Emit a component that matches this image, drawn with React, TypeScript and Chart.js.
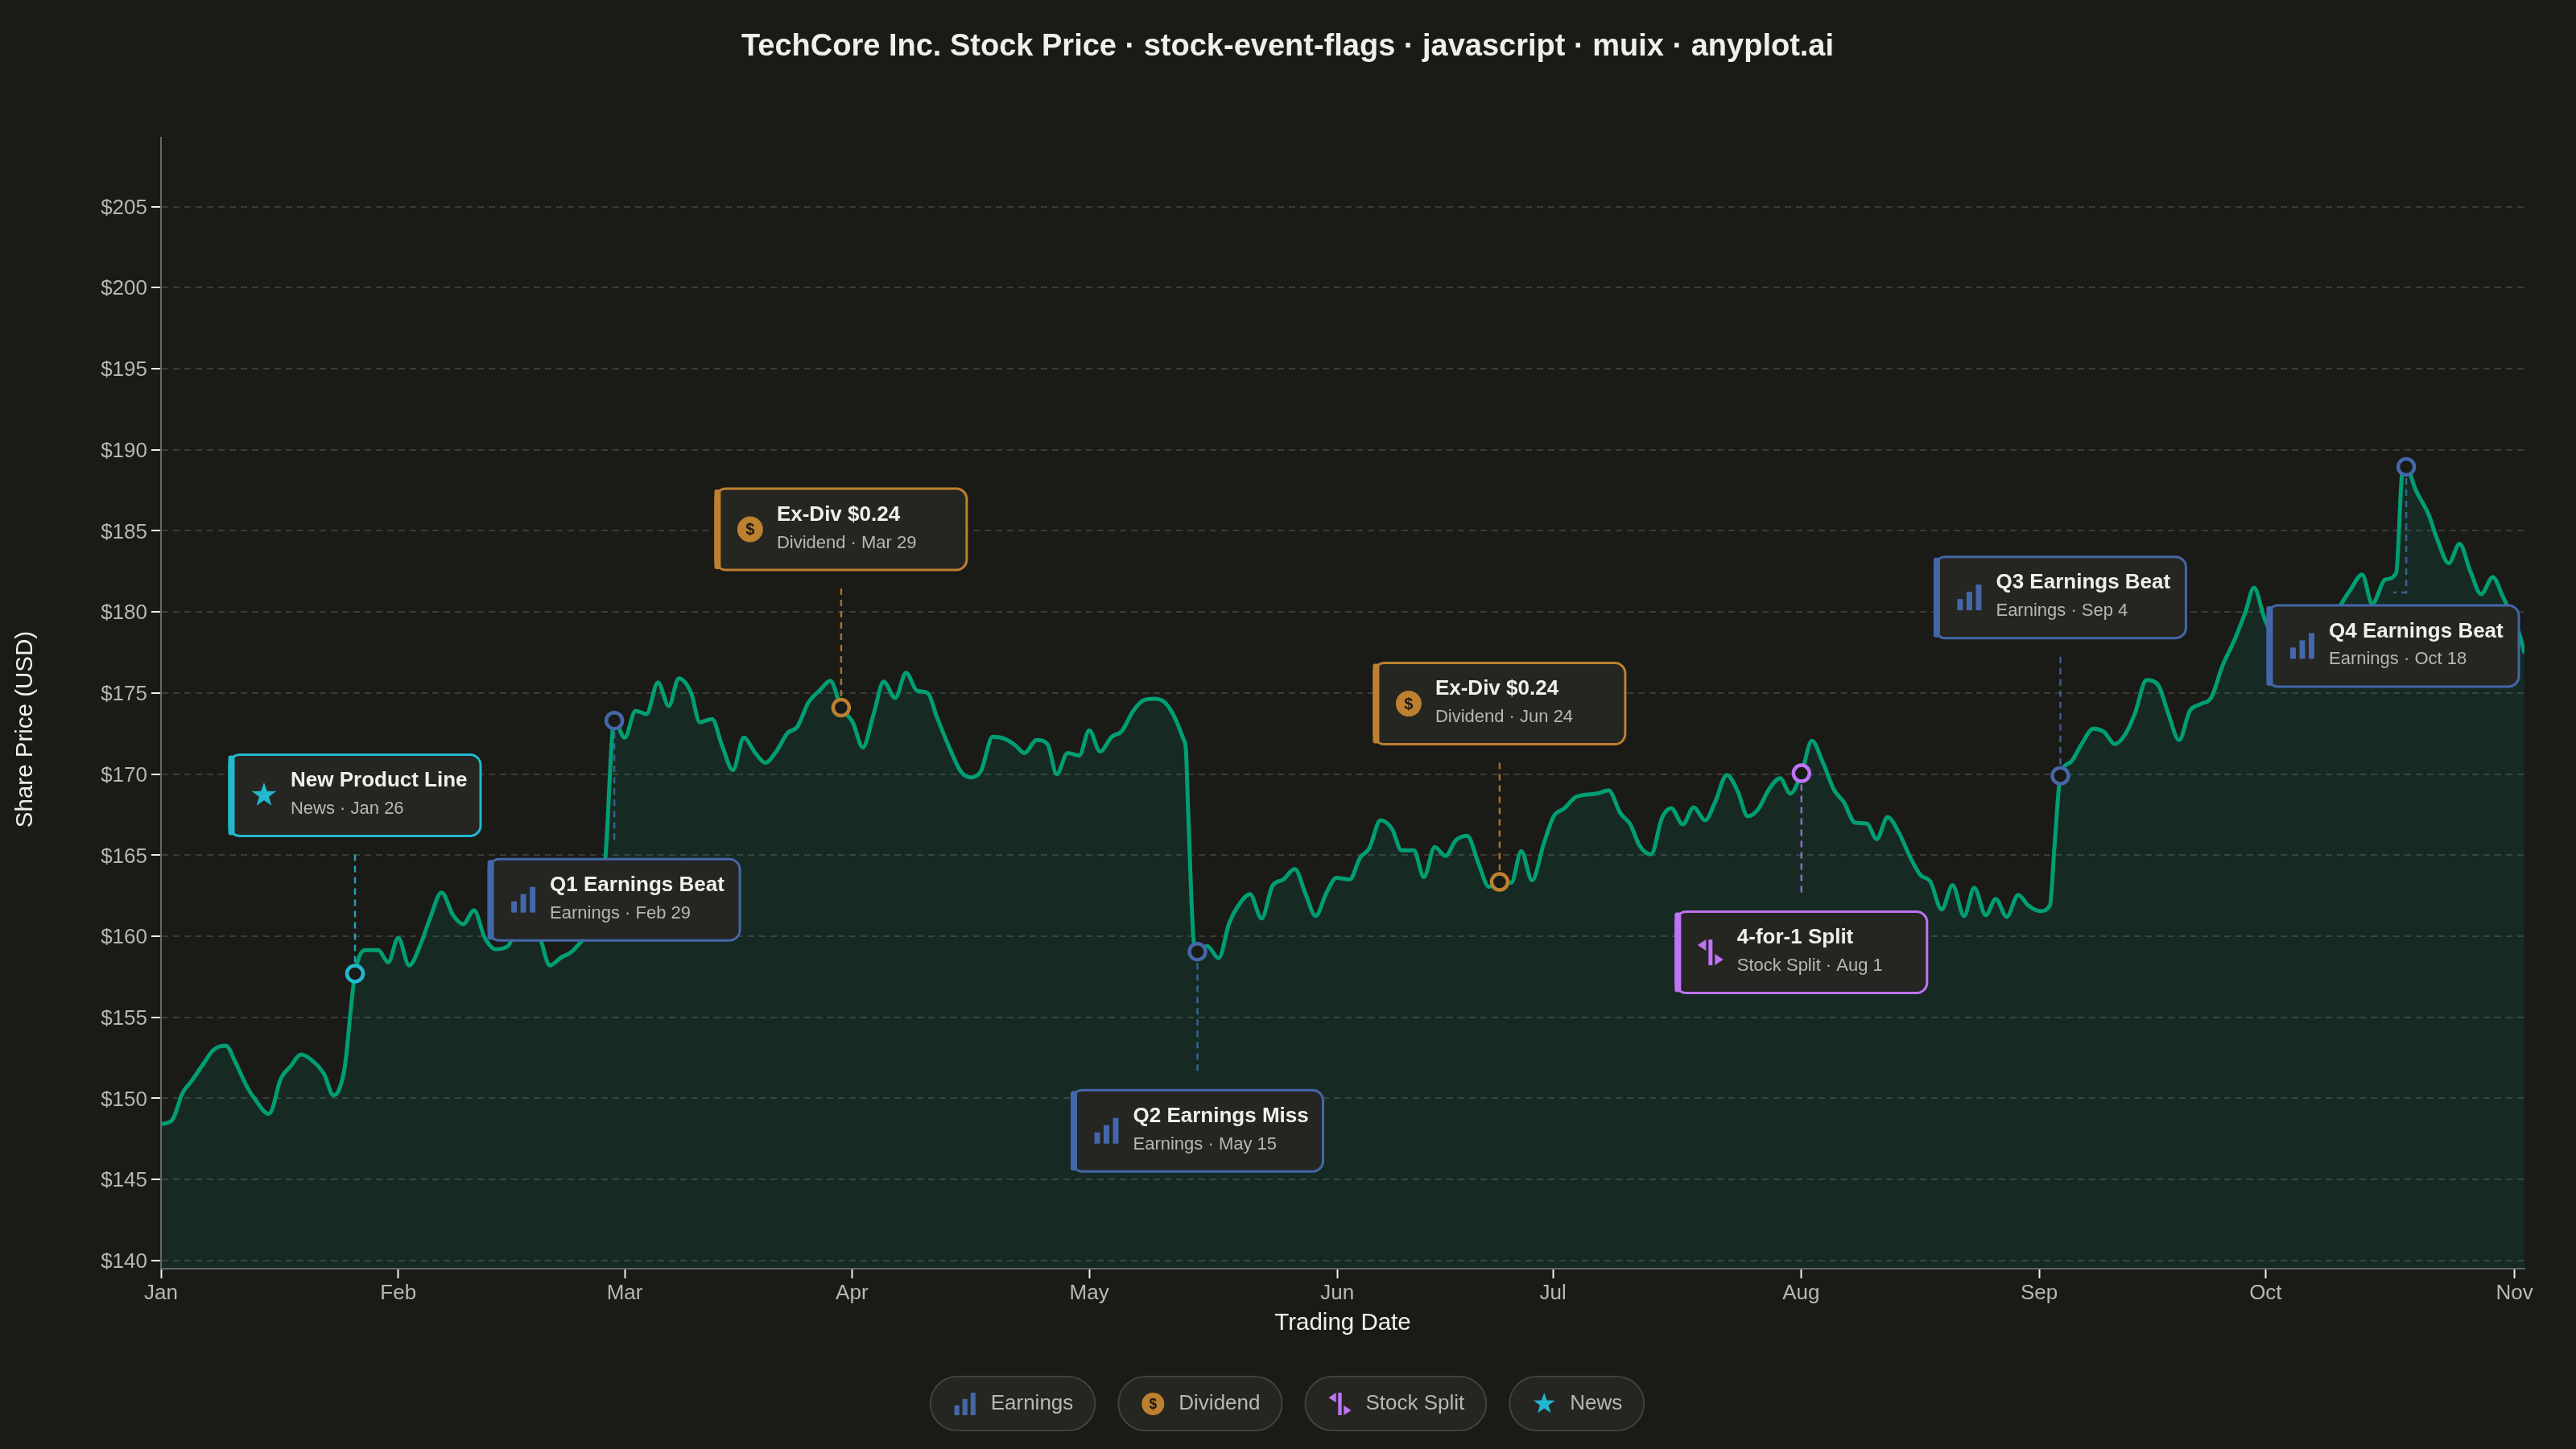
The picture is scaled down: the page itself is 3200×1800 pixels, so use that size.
import { useEffect, useRef } from "react";
import { Chart, registerables } from "chart.js";

Chart.register(...registerables);

const FONT = '"Liberation Sans", Arial, sans-serif';
const BG = "#1a1a17";
const INK = "#f0efe8";
const MUTED = "#b8b7b0";
const CARD_BG = "#252521";
const CHART_TITLE = "TechCore Inc. Stock Price · stock-event-flags · javascript · muix · anyplot.ai";

// position along the axis
const tradingDays = [
  0, 1.3, 1.8, 2.7, 4, 5.5, 6.8, 8.4, 9.7, 11.2, 12.1, 13.9, 14.4, 15.4, 16.8, 18.1, 19.4, 21.1, 22.3, 23, 23.8, 24.6, 25.1,
  26.4, 28.1, 29.4, 30.7, 32.1, 33.7, 34.8, 36.3, 37.8, 39.1, 40.5, 41.9, 43.3, 44.9, 46.4, 47.8, 49.1, 50.3, 51.8, 53, 54.4, 55.6, 56.7, 57.5, 58.65,
  60, 61.4, 62.8, 64.3, 65.7, 67, 68.6, 69.7, 71.3, 72.6, 74, 75.4, 76.9, 78.2, 79.6, 81.1, 82.3, 83.8, 85.2, 86.6, 88,
  89.5, 90.8, 92.2, 93.5, 95, 96.4, 97.8, 99.2, 100.4, 101.9, 103.5, 104.8, 106.1, 107.6, 109.3, 110.6, 111.7, 113.3, 114.7, 115.9, 117.3, 118.8,
  120.1, 121.5, 123, 124.3, 125.8, 127.1, 128.5, 129.8, 131.1, 132.3, 132.6, 132.9, 133.6, 134.1,
  135.35, 136.85, 138.2, 139.4, 140.9, 142.4, 143.8, 145.2, 146.7, 148.1, 149.4, 150.8, 152.1, 153.8, 155.15, 156.3, 157.8, 159.3, 160.5, 162.1, 163.4, 164.8, 166.2, 167.5, 169, 170.5, 171.8, 173.2,
  174.7, 176, 177.4, 178.9, 180.2, 181.6, 183.1, 185.8, 187.3, 188.8, 190.1, 191.3, 192.8, 194.2, 195.4, 196.9, 198.3, 199.8, 201.1, 202.6, 204, 205.3, 206.6, 208.1, 209.5, 210.8, 212.25,
  213.6, 215, 216.5, 217.7, 219.2, 220.7, 222, 223.4, 224.9, 226.3, 227.7, 228.9, 230.4, 231.8, 233.3, 234.6, 236.1, 237.4, 238.8, 240.3, 241.6, 243.1, 244.4, 245, 245.75,
  247.1, 248.5, 250, 251.4, 252.8, 254.2, 255.4, 256.9, 258.4, 259.7, 261.1, 262.5, 263.8, 265.3, 266.7, 268.3, 269.7, 270.8, 272.2, 273.5, 275, 276.5, 278, 279.5, 281,
  282.1, 283.25, 284.8, 286.1, 287.8, 289.2, 290, 290.5, 291.7, 293.4, 294.5, 296, 297.4, 298.8, 300.2, 301.7, 303, 303.6, 304.3, 305.1, 305.8,
];

const closePrices = [
  148.42, 148.6, 149, 150.25, 151.1, 152.15, 153, 153.25, 152.15, 150.65, 150, 149.05, 149.35, 151.1, 152, 152.7, 152.4, 151.5, 150.2, 150.5, 152, 155.7, 157.7,
  159.15, 159.15, 158.4, 159.9, 158.2, 159.65, 161.1, 162.7, 161.3, 160.75, 161.6, 159.9, 159.2, 159.4, 160.9, 161, 159.8, 158.2, 158.7, 159, 159.7, 160.5, 161, 164.8, 173.3,
  172.25, 173.9, 173.7, 175.65, 174.2, 175.9, 175, 173.2, 173.4, 171.75, 170.25, 172.25, 171.3, 170.7, 171.4, 172.55, 172.9, 174.45, 175.15, 175.75, 174.1,
  173.2, 171.65, 173.7, 175.7, 174.7, 176.25, 175.15, 175, 173.5, 171.75, 170.15, 169.8, 170.2, 172.3, 172.15, 171.75, 171.3, 172.1, 171.85, 170, 171.3, 171.15,
  172.7, 171.4, 172.3, 172.65, 173.9, 174.55, 174.65, 174.45, 173.55, 172.15, 171.55, 167.75, 159.8, 159.05,
  159.4, 158.65, 160.8, 161.9, 162.6, 161.1, 163.1, 163.5, 164.15, 162.6, 161.25, 162.7, 163.6, 163.5, 164.85, 165.4, 167.15, 166.6, 165.3, 165.3, 163.65, 165.5, 164.95, 165.9, 166.2, 164.45, 163.05, 163.35,
  163.3, 165.25, 163.45, 165.7, 167.4, 167.9, 168.6, 168.8, 169, 167.6, 166.9, 165.6, 165.05, 167.3, 167.9, 166.9, 167.95, 167.15, 168.3, 169.95, 168.95, 167.4, 167.8, 169.1, 169.75, 168.8, 170.05,
  172.05, 170.75, 169, 168.3, 167, 166.95, 166, 167.35, 166.35, 164.9, 163.75, 163.4, 161.65, 163.15, 161.25, 163, 161.3, 162.3, 161.2, 162.55, 161.9, 161.55, 161.9, 165.6, 169.9,
  170.75, 171.85, 172.8, 172.6, 171.85, 172.5, 173.75, 175.8, 175.5, 173.75, 172.1, 173.9, 174.3, 174.75, 176.65, 178.3, 180, 181.5, 179.55, 178.5, 178.6, 177.8, 178.2, 179, 179.6,
  180.5, 181.35, 182.3, 180.5, 182, 182.4, 188.65, 188.95, 187.55, 186, 184.5, 183, 184.2, 182.5, 181.1, 182.15, 180.95, 180.35, 179.5, 178.7, 177.45,
];

const monthLabels = ["Jan", "Feb", "Mar", "Apr", "May", "Jun", "Jul", "Aug", "Sep", "Oct", "Nov"];
const monthPositions = [0, 30.7, 60, 89.4, 120.1, 152.2, 180.1, 212.2, 243, 272.3, 304.5];
const priceTicks = [140, 145, 150, 155, 160, 165, 170, 175, 180, 185, 190, 195, 200, 205];

const eventDays = [25.1, 58.65, 88, 134.1, 173.2, 212.25, 245.75, 290.5];
const eventPrices = [157.7, 173.3, 174.1, 159.05, 163.35, 170.05, 169.9, 188.95];
const eventKinds = ["News", "Earnings", "Dividend", "Earnings", "Dividend", "Stock Split", "Earnings", "Earnings"];
const eventTitles = ["New Product Line", "Q1 Earnings Beat", "Ex-Div $0.24", "Q2 Earnings Miss", "Ex-Div $0.24", "4-for-1 Split", "Q3 Earnings Beat", "Q4 Earnings Beat"];
const eventDates = ["Jan 26", "Feb 29", "Mar 29", "May 15", "Jun 24", "Aug 1", "Sep 4", "Oct 18"];
const eventSides = ["above", "below", "above", "below", "above", "below", "above", "below"];

const legendKinds = ["Earnings", "Dividend", "Stock Split", "News"];
const kindColors: Record<string, string> = {
  Earnings: "#4467a9",
  Dividend: "#bd8030",
  "Stock Split": "#bf73f5",
  News: "#23b8cf",
};

function drawIcon(ctx: CanvasRenderingContext2D, kind: string, cx: number, cy: number, s: number) {
  const color = kindColors[kind];
  ctx.save();
  ctx.fillStyle = color;
  if (kind === "Earnings") {
    ctx.fillRect(cx - 15 * s, cy + 2 * s, 7 * s, 14 * s);
    ctx.fillRect(cx - 3.5 * s, cy - 7 * s, 7 * s, 23 * s);
    ctx.fillRect(cx + 8 * s, cy - 16 * s, 7 * s, 32 * s);
  } else if (kind === "Dividend") {
    ctx.beginPath();
    ctx.arc(cx, cy, 16 * s, 0, Math.PI * 2);
    ctx.fill();
    ctx.fillStyle = BG;
    ctx.font = `bold ${20 * s}px ${FONT}`;
    ctx.textAlign = "center";
    ctx.textBaseline = "middle";
    ctx.fillText("$", cx, cy + 1);
  } else if (kind === "Stock Split") {
    ctx.fillRect(cx - 2.5 * s, cy - 16 * s, 5 * s, 32 * s);
    ctx.beginPath();
    ctx.moveTo(cx - 16 * s, cy - 9 * s);
    ctx.lineTo(cx - 5.5 * s, cy - 16 * s);
    ctx.lineTo(cx - 5.5 * s, cy - 2 * s);
    ctx.closePath();
    ctx.moveTo(cx + 16 * s, cy + 9 * s);
    ctx.lineTo(cx + 5.5 * s, cy + 2 * s);
    ctx.lineTo(cx + 5.5 * s, cy + 16 * s);
    ctx.closePath();
    ctx.fill();
  } else {
    const R = 16 * s;
    const r = 6.4 * s;
    ctx.beginPath();
    for (let i = 0; i < 10; i++) {
      const a = -Math.PI / 2 + (i * Math.PI) / 5;
      const rad = i % 2 === 0 ? R : r;
      const px = cx + Math.cos(a) * rad;
      const py = cy + Math.sin(a) * rad;
      if (i === 0) ctx.moveTo(px, py);
      else ctx.lineTo(px, py);
    }
    ctx.closePath();
    ctx.fill();
  }
  ctx.restore();
}

const CARD_W = 312;
const CARD_H = 101;

function cardBox(chart: any, i: number) {
  const mx = chart.scales.x.getPixelForValue(eventDays[i]);
  const my = chart.scales.y.getPixelForValue(eventPrices[i]);
  const cx = Math.min(mx, chart.chartArea.right - 7 - CARD_W / 2);
  const above = eventSides[i] === "above";
  const top = above ? my - 171 - CARD_H : my + 172;
  return { mx, my, cx, above, top, left: cx - CARD_W / 2 };
}

// dashed stems sit under the line and the ring markers
const stemsPlugin = {
  id: "eventStems",
  beforeDatasetsDraw(chart: any) {
    const ctx = chart.ctx;
    eventDays.forEach((_, i) => {
      const { mx, my, cx, above, top } = cardBox(chart, i);
      const dir = above ? -1 : 1;
      ctx.save();
      ctx.strokeStyle = kindColors[eventKinds[i]];
      ctx.globalAlpha = 0.85;
      ctx.lineWidth = 2.5;
      ctx.setLineDash([8, 6]);
      ctx.beginPath();
      ctx.moveTo(mx, my);
      if (Math.abs(cx - mx) > 1) {
        const edge = above ? top + CARD_H : top;
        ctx.lineTo(mx, edge - dir * 16);
        ctx.lineTo(cx, edge - dir * 16);
      } else {
        ctx.lineTo(mx, my + dir * 150);
      }
      ctx.stroke();
      ctx.restore();
    });
  },
};

const cardsPlugin = {
  id: "eventCards",
  afterDatasetsDraw(chart: any) {
    const ctx: CanvasRenderingContext2D = chart.ctx;
    eventDays.forEach((_, i) => {
      const { left, top } = cardBox(chart, i);
      const kind = eventKinds[i];
      const color = kindColors[kind];
      const midY = top + CARD_H / 2;
      ctx.save();
      ctx.beginPath();
      ctx.roundRect(left, top, CARD_W, CARD_H, 13);
      ctx.fillStyle = CARD_BG;
      ctx.fill();
      ctx.strokeStyle = color;
      ctx.lineWidth = 3;
      ctx.stroke();
      ctx.fillStyle = color;
      ctx.beginPath();
      ctx.roundRect(left - 1.5, top + 1, 8, CARD_H - 2, 3);
      ctx.fill();
      drawIcon(ctx, kind, left + 43, midY, 1);
      ctx.textAlign = "left";
      ctx.textBaseline = "middle";
      ctx.fillStyle = INK;
      ctx.font = `bold 26px ${FONT}`;
      ctx.fillText(eventTitles[i], left + 76, midY - 18);
      ctx.fillStyle = MUTED;
      ctx.font = `22px ${FONT}`;
      ctx.fillText(`${kind} · ${eventDates[i]}`, left + 76, midY + 17);
      ctx.restore();
    });

    // legend pills
    ctx.save();
    ctx.font = `26px ${FONT}`;
    const widths = legendKinds.map((k) => 75 + ctx.measureText(k).width + 27);
    const gap = 29;
    const total = widths.reduce((a, b) => a + b, 0) + gap * (widths.length - 1);
    let x = 1599 - total / 2;
    legendKinds.forEach((k, i) => {
      ctx.beginPath();
      ctx.roundRect(x, 1710, widths[i], 67, 33.5);
      ctx.fillStyle = CARD_BG;
      ctx.fill();
      ctx.strokeStyle = "#41413d";
      ctx.lineWidth = 2;
      ctx.stroke();
      drawIcon(ctx, k, x + 43, 1744, 0.875);
      ctx.fillStyle = MUTED;
      ctx.font = `26px ${FONT}`;
      ctx.textAlign = "left";
      ctx.textBaseline = "middle";
      ctx.fillText(k, x + 75, 1744);
      x += widths[i] + gap;
    });
    ctx.restore();

    // chart title and axis titles
    ctx.save();
    ctx.fillStyle = INK;
    ctx.textAlign = "center";
    ctx.textBaseline = "middle";
    ctx.font = `bold 38px ${FONT}`;
    ctx.fillText(CHART_TITLE, 1599.5, 59);
    ctx.font = `29.5px ${FONT}`;
    ctx.fillText("Trading Date", 1668, 1644);
    ctx.translate(32, 906);
    ctx.rotate(-Math.PI / 2);
    ctx.fillText("Share Price (USD)", 0, 0);
    ctx.restore();
  },
};

export default function App() {
  const canvasRef = useRef<HTMLCanvasElement | null>(null);

  useEffect(() => {
    if (!canvasRef.current) return;
    const chart = new Chart(canvasRef.current.getContext("2d")!, {
      type: "line",
      data: {
        datasets: [
          {
            label: "Events",
            data: eventDays.map((d, i) => ({ x: d, y: eventPrices[i] })),
            showLine: false,
            pointRadius: 10,
            pointBorderWidth: 4.5,
            pointBackgroundColor: BG,
            pointBorderColor: eventKinds.map((k) => kindColors[k]),
            order: 0,
          },
          {
            label: "Close",
            data: tradingDays.map((d, i) => ({ x: d, y: closePrices[i] })),
            borderColor: "#009e73",
            borderWidth: 5,
            backgroundColor: "rgba(0, 158, 115, 0.13)",
            fill: "start",
            pointRadius: 0,
            cubicInterpolationMode: "monotone",
            order: 1,
          },
        ],
      },
      options: {
        responsive: false,
        devicePixelRatio: 1,
        animation: false,
        events: [],
        layout: { padding: { top: 171, right: 64 } },
        plugins: {
          legend: { display: false },
          tooltip: { enabled: false },
        },
        scales: {
          x: {
            type: "linear",
            min: 0,
            max: 305.8,
            afterBuildTicks: (s: any) => {
              s.ticks = monthPositions.map((value) => ({ value }));
            },
            afterFit: (s: any) => {
              s.height = 224;
            },
            grid: { drawOnChartArea: false, tickColor: INK, tickLength: 12, tickWidth: 2 },
            border: { color: "#666662", width: 2 },
            ticks: {
              autoSkip: false,
              maxRotation: 0,
              padding: 3,
              color: MUTED,
              font: { family: FONT, size: 26 },
              callback: (_: any, i: number) => monthLabels[i],
            },
          },
          y: {
            min: 139.5,
            max: 209.25,
            afterBuildTicks: (s: any) => {
              s.ticks = priceTicks.map((value) => ({ value }));
            },
            afterFit: (s: any) => {
              s.width = 200;
            },
            grid: { color: "rgba(240, 239, 232, 0.16)", lineWidth: 2, tickColor: INK, tickLength: 12, tickWidth: 2 },
            border: { color: "#666662", width: 2, dash: [8, 6] },
            ticks: {
              padding: 5,
              labelOffset: 2,
              color: MUTED,
              font: { family: FONT, size: 26 },
              callback: (v: any) => `$${v}`,
            },
          },
        },
      },
      plugins: [stemsPlugin, cardsPlugin],
    });
    return () => chart.destroy();
  }, []);

  return (
    <div style={{ position: "fixed", left: 0, top: 0, width: 3200, height: 1800, background: BG }}>
      <canvas ref={canvasRef} width={3200} height={1800} style={{ display: "block" }} />
    </div>
  );
}
